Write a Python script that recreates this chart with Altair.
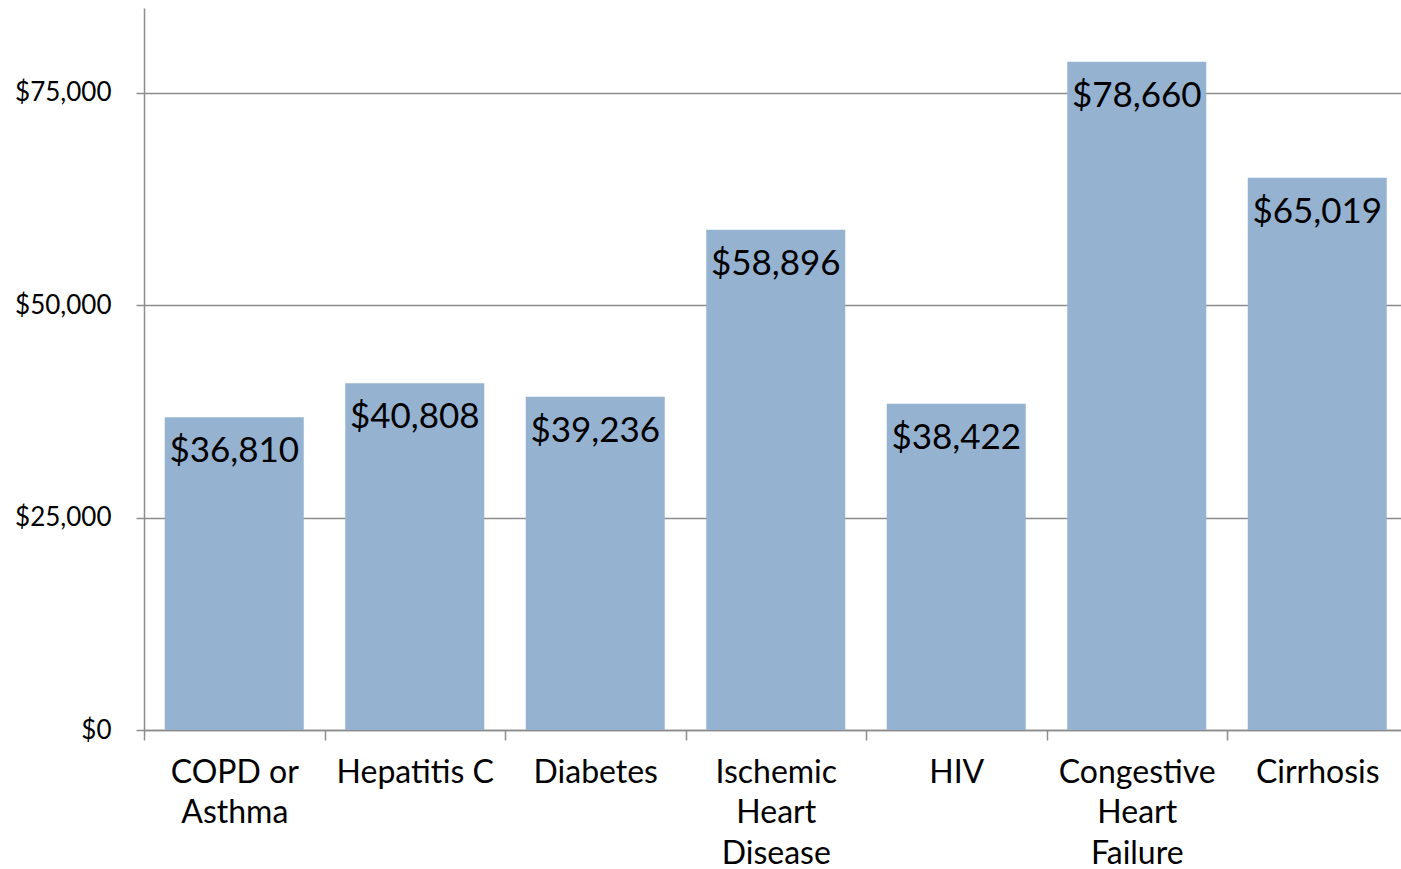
import altair as alt
import pandas as pd

# Average annual cost per patient by condition
categories = [
    "COPD or Asthma",
    "Hepatitis C",
    "Diabetes",
    "Ischemic Heart Disease",
    "HIV",
    "Congestive Heart Failure",
    "Cirrhosis",
]
costs = [36810, 40808, 39236, 58896, 38422, 78660, 65019]

# How each category name wraps under the axis
label_lines = [
    ["COPD or", "Asthma"],
    ["Hepatitis C"],
    ["Diabetes"],
    ["Ischemic", "Heart", "Disease"],
    ["HIV"],
    ["Congestive", "Heart", "Failure"],
    ["Cirrhosis"],
]
y_ticks = [0, 25000, 50000, 75000]

df = pd.DataFrame({"condition": categories, "cost": costs})
df["label"] = df["cost"].map(lambda v: f"${v:,}")

FONT = "Lato"
GRID = "#8c8c8c"
WIDTH = 1257
# the category band runs slightly past the right edge of the view
BAND_SPAN = 1263.5
STEP = BAND_SPAN / len(categories)

label_map = "{" + ", ".join(
    '"' + c + '": [' + ", ".join('"' + s + '"' for s in lines) + "]"
    for c, lines in zip(categories, label_lines)
) + "}"

x = alt.X(
    "condition:N",
    sort=categories,
    title=None,
    scale=alt.Scale(range=[0, BAND_SPAN], paddingInner=0.23, paddingOuter=0.115),
    axis=alt.Axis(
        labelAngle=0,
        labelFont=FONT,
        labelFontSize=32,
        labelColor="#000000",
        labelPadding=17,
        labelLineHeight=40.5,
        labelExpr=label_map + "[datum.label]",
        # ticks sit on the boundaries between categories
        tickOffset=-STEP / 2,
        labelOffset=STEP / 2,
        tickSize=10,
        tickColor=GRID,
        tickWidth=1.5,
        domainColor=GRID,
        domainWidth=1.5,
        grid=False,
    ),
)

y = alt.Y(
    "cost:Q",
    title=None,
    scale=alt.Scale(domain=[0, 85000], nice=False),
    axis=alt.Axis(
        values=y_ticks,
        format="$,.0f",
        labelFont=FONT,
        labelFontSize=26,
        labelColor="#000000",
        labelPadding=25,
        tickSize=8,
        tickColor=GRID,
        tickWidth=1.5,
        domainColor=GRID,
        domainWidth=1.5,
        grid=True,
        gridColor=GRID,
        gridWidth=1.5,
    ),
)

bars = alt.Chart(df).mark_bar(color="#95b3d1").encode(x=x, y=y)

# value labels just inside the top of each bar, sharing the same axes
text = alt.Chart(df).mark_text(
    font=FONT,
    fontSize=35,
    color="#000000",
    baseline="middle",
    dy=34,
).encode(x=x, y=y, text="label:N")

chart = (
    alt.layer(bars, text)
    .properties(
        width=WIDTH,
        height=722,
        autosize=alt.AutoSizeParams(type="none"),
        padding={"left": 144, "top": 8, "right": 0, "bottom": 139},
        view=alt.ViewBackground(stroke="transparent", strokeWidth=0, strokeOpacity=0),
    )
    .configure_view(stroke="transparent", strokeWidth=0)
    .configure(background="#ffffff")
)

chart.save("out.html", embed_options={"renderer": "svg", "actions": False})
